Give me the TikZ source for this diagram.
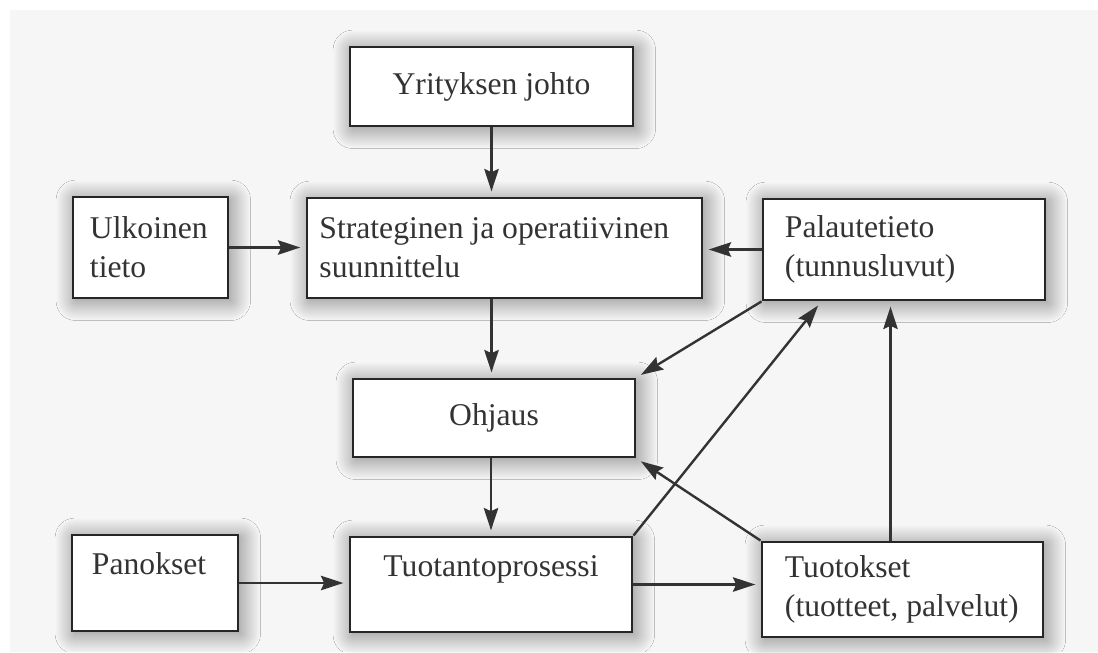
\documentclass[tikz,border=0pt]{standalone}
\usepackage{fontspec}
\setmainfont{Liberation Serif}
\usetikzlibrary{arrows.meta, calc, shadows.blur}

\begin{document}
\begin{tikzpicture}[x=0.025cm, y=-0.025cm]
    \tikzset{
        block/.style={
                draw=black!85, line width=2pt, fill=white, inner sep=0pt,
                text=black!80, font=\fontsize{22.5}{27.7}\selectfont,
                blur shadow={shadow xshift=2pt, shadow yshift=-2pt, shadow blur radius=14pt,
                        shadow blur steps=30, shadow blur extra rounding=0pt, shadow opacity=50}
            },
        flow/.style={
                -{Stealth[length=0.56cm, width=0.36cm, inset=0.08cm]},
                line width=1.7pt, draw=black!80, shorten >=0.13cm
            },
        top text/.style={text height=15pt, text depth=27pt}
    }

    % Page and background
    \useasboundingbox (0,0) rectangle (1098,652);
    \fill[white] (0,0) rectangle (1098,652);
    \fill[gray!7] (10,10) rectangle (1098,652);

    % Boxes
    \node[block, minimum width=7.075cm, minimum height=1.975cm] (johto) at (491.5,86.5) {Yrityksen johto};
    \node[block, align=flush left, text width=3.025cm, minimum width=3.875cm, minimum height=2.525cm] (ulkoinen) at (150.5,247.5) {Ulkoinen\\tieto};
    \node[block, align=flush left, text width=9.25cm, minimum width=9.875cm, minimum height=2.5cm] (strat) at (504.5,248) {Strateginen ja operatiivinen\\suunnittelu};
    \node[block, align=flush left, text width=5.95cm, minimum width=7.05cm, minimum height=2.525cm] (palaute) at (904,249.5) {Palautetieto\\(tunnusluvut)};
    \node[block, minimum width=7.05cm, minimum height=1.95cm] (ohjaus) at (494,418) {Ohjaus};
    \node[block, top text, align=flush left, text width=3.15cm, minimum width=4.15cm, minimum height=2.4cm] (panokset) at (155,583) {Panokset};
    \node[block, top text, minimum width=7.05cm, minimum height=2.375cm] (tuotanto) at (491,584.5) {Tuotantoprosessi};
    \node[block, align=flush left, text width=5.875cm, minimum width=7.025cm, minimum height=2.375cm] (tuotokset) at (902.5,589.5) {Tuotokset\\(tuotteet, palvelut)};

    % Main flow
    \draw[flow] (johto.south) -- (johto.south |- strat.north);
    \draw[flow] (ulkoinen.east) -- (ulkoinen.east -| strat.west);
    \draw[flow] (palaute.west) -- (palaute.west -| strat.east);
    \draw[flow] (strat.south -| johto.south) -- (ohjaus.north -| johto.south);
    \draw[flow] (ohjaus.south -| tuotanto.north) -- (tuotanto.north);
    \draw[flow] (panokset.east) -- (panokset.east -| tuotanto.west);
    \draw[flow] (tuotanto.east) -- (tuotanto.east -| tuotokset.west);

    % Feedback arrows
    \draw[flow] (palaute.south west) -- (ohjaus.north east);
    \draw[flow] (tuotanto.north east) -- ($(palaute.south west)!0.21!(palaute.south east)$);
    \draw[flow] (tuotokset.north west) -- (ohjaus.south east);
    \draw[flow] (tuotokset.north) ++(-12,0) coordinate (nousu) -- (nousu |- palaute.south);
\end{tikzpicture}
\end{document}
